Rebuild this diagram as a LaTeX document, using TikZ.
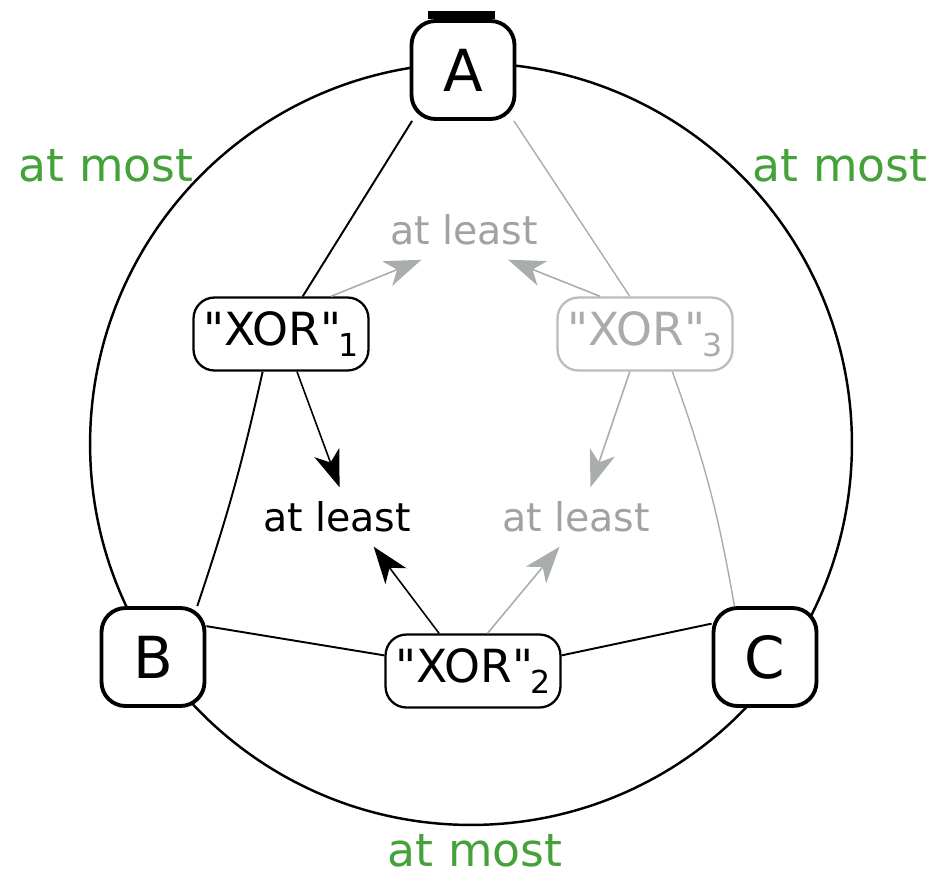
\documentclass[tikz,border=0pt]{standalone}
\usepackage{fontspec}
\setmainfont{DejaVu Sans}[Ligatures=TeXOff]
\usetikzlibrary{arrows.meta,backgrounds}
\definecolor{mostgreen}{HTML}{45A23A}
\definecolor{lightgr}{HTML}{ABABAB}
\definecolor{arrgr}{HTML}{A9ADAD}
\newcommand{\xorlbl}[1]{"XOR"\kern-0.05em\raisebox{-6pt}{\fontsize{18}{20}\selectfont #1}}
\begin{document}
\begin{tikzpicture}[x=0.02cm,y=-0.02cm,
  vbox/.style={draw,line width=2.2pt,rounded corners=0.48cm,fill=white,
    minimum width=2.06cm,minimum height=1.96cm,inner sep=0pt,
    font=\fontsize{33}{38}\selectfont},
  xorbox/.style={draw,line width=1.3pt,rounded corners=0.42cm,fill=white,
    minimum width=3.5cm,minimum height=1.46cm,inner sep=0pt,
    font=\fontsize{26}{30}\selectfont},
  leastlbl/.style={inner xsep=2pt,inner ysep=8pt,font=\fontsize{22.5}{26}\selectfont},
  mostlbl/.style={text=mostgreen,inner sep=2pt,font=\fontsize{26}{30}\selectfont},
  edge/.style={line width=1.1pt},
  grayedge/.style={line width=0.8pt,draw=lightgr},
  arr/.style={line width=0.9pt,
    -{Stealth[length=21pt,width=15pt,inset=6pt]}},
]
\useasboundingbox (0,0) rectangle (935,876);

% nodes
\node[vbox] (A) at (463,70) {A};
\node[vbox] (B) at (153,657) {B};
\node[vbox] (C) at (765,657) {C};
\node[xorbox] (X1) at (281,334) {\xorlbl{1}};
\node[xorbox] (X2) at (473,671) {\xorlbl{2}};
\node[xorbox,draw=lightgr!80,text=lightgr] (X3) at (645,334) {\xorlbl{3}};

\node[leastlbl] (L1) at (337,517) {at least};
\node[leastlbl,text=lightgr!95!black] (L2) at (576,517) {at least};
\node[leastlbl,text=lightgr!95!black] (L3) at (464,230) {at least};

\node[mostlbl] (M1) at (106,166) {at most};
\node[mostlbl] (M2) at (840,166) {at most};
\node[mostlbl] (M3) at (475,851) {at most};

\begin{scope}[on background layer]
  \coordinate (O) at (471,444);
  \draw[line width=1.4pt] (O) circle[radius=7.62cm];
  \fill (A.north) ++(-35,-8) rectangle ++(67,8);
  % edges of triangle
  \draw[edge] (A.-135) -- (X1.60);
  \draw[edge] (X1.-116) to[bend left=3] (B.49);
  \draw[edge] (B.30) -- (X2.170);
  \draw[edge] (X2.10) -- (C.148);
  \draw[grayedge] (A.-45) -- (X3.112);
  \draw[grayedge] (X3.-54) to[bend left=5] (C.121);
\end{scope}

% arrows
\draw[arr] (X1.-67) -- (L1.85);
\draw[arr] (X2.132) -- (L1.-39);
\draw[arr,draw=arrgr,fill=arrgr] (X2.69) -- (L2.-119);
\draw[arr,draw=arrgr,fill=arrgr] (X3.-112) -- (L2.64);
\draw[arr,draw=arrgr,fill=arrgr] (X1.37) -- (L3.-145);
\draw[arr,draw=arrgr,fill=arrgr] (X3.140) -- (L3.-34);
\end{tikzpicture}
\end{document}
